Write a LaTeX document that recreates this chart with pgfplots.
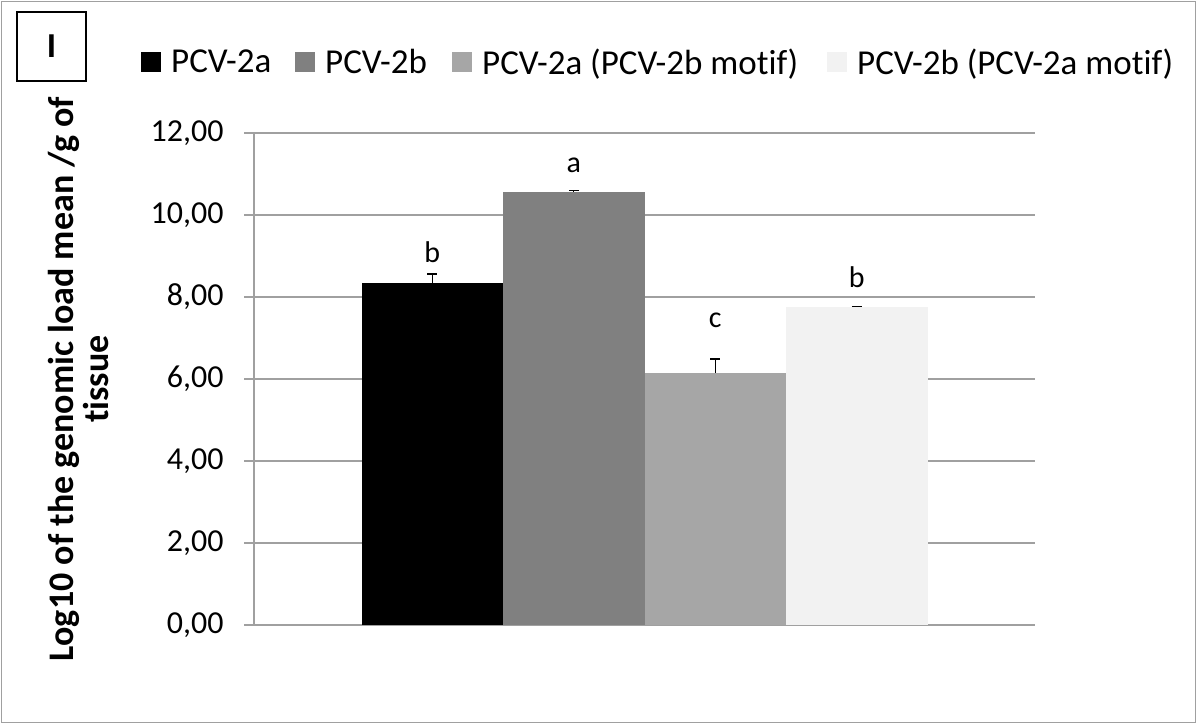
\documentclass[border=0pt]{standalone}
\usepackage{fontspec}
\setmainfont{Carlito}[Ligatures=NoCommon]
\usepackage{pgfplots}
\pgfplotsset{compat=1.18}
\definecolor{gridgray}{RGB}{160,160,160}
\definecolor{barB}{RGB}{128,128,128}
\definecolor{barC}{RGB}{166,166,166}
\definecolor{barD}{RGB}{242,242,242}
\begin{document}
\begin{tikzpicture}[x=1pt,y=1pt]
\useasboundingbox (0,0) rectangle (1197,724);
\draw[gridgray, line width=1.5pt] (1.5,1.5) rectangle (1195.5,722.5);
\draw[black, line width=2pt] (17,643) rectangle (86,712);
\node[font=\fontsize{35}{40}\selectfont\bfseries] at (51.5,677.5) {I};
\begin{axis}[
  at={(254pt,99pt)}, anchor=south west,
  scale only axis, width=781pt, height=492pt,
  xmin=-1, xmax=1, ymin=0, ymax=12,
  ytick={0,2,...,12},
  xtick=\empty,
  ybar=0pt, bar width=141.5pt,
  axis lines*=left,
  axis line style={gridgray, line width=1.5pt},
  ymajorgrids, grid style={gridgray, line width=1.5pt},
  tick align=outside, major tick length=10pt,
  tick style={gridgray, line width=1.5pt},
  y tick label style={font=\fontsize{32}{36}\selectfont, xshift=-17pt},
  /pgf/number format/.cd, fixed, fixed zerofill, precision=2, use comma, assume math mode=true,
  /pgfplots/.cd,
  ylabel={Log10 of the genomic load mean /g of\\tissue},
  ylabel style={at={(axis description cs:-0.2250,0.5)}, anchor=center, align=center,
    font=\fontsize{36}{35}\selectfont\bfseries},
  legend style={at={(axis description cs:-0.1447,1.1443)}, anchor=west, draw=none, fill=none,
    legend columns=4, font=\fontsize{35}{40}\selectfont, inner sep=0pt,
    nodes={inner sep=0pt},
    /tikz/every odd column/.append style={column sep=10pt},
    /tikz/every even column/.append style={column sep=0pt}},
  legend image code/.code={\fill[#1] (0pt,-10pt) rectangle (20pt,10pt);},
  error bars/y dir=plus, error bars/y explicit,
  error bars/error mark options={black, line width=1.3pt, mark size=5pt, rotate=90},
  error bars/error bar style={black, line width=1.3pt},
]
\addplot[fill=black, draw=none] coordinates {(0,8.34) +- (0,0.22)};
\addplot[fill=barB, draw=none] coordinates {(0,10.57) +- (0,0.03)};
\addplot[fill=barC, draw=none] coordinates {(0,6.15) +- (0,0.34)};
\addplot[fill=barD, draw=none] coordinates {(0,7.76) +- (0,0.01)};
\legend{\makebox[124pt][l]{PCV-2a},\makebox[127pt][l]{PCV-2b},\makebox[345pt][l]{PCV-2a (PCV-2b motif)},PCV-2b (PCV-2a motif)}
\node[font=\fontsize{30}{34}\selectfont, inner sep=0pt] at (axis cs:0,9.105) [xshift=-212.25pt] {b};
\node[font=\fontsize{30}{34}\selectfont, inner sep=0pt] at (axis cs:0,11.22) [xshift=-70.75pt] {a};
\node[font=\fontsize{30}{34}\selectfont, inner sep=0pt] at (axis cs:0,7.44) [xshift=70.75pt] {c};
\node[font=\fontsize{30}{34}\selectfont, inner sep=0pt] at (axis cs:0,8.495) [xshift=212.25pt] {b};
\end{axis}
\end{tikzpicture}
\end{document}
